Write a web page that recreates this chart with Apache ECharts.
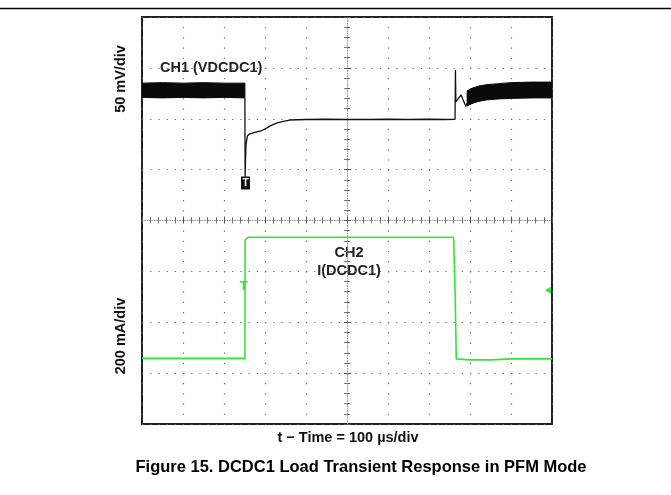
<!DOCTYPE html>
<html><head><meta charset="utf-8">
<script src="https://cdn.jsdelivr.net/npm/echarts@6/dist/echarts.min.js"></script>
<style>html,body{margin:0;padding:0;background:#fff}#c{width:671px;height:495px}</style>
</head><body><div id="c"></div>
<script>
// Screen in divisions: 10 horizontal (100 µs/div), 8 vertical, centred at 0
const xRange = [-5, 5];
const yRange = [-4, 4];
// CH1 (VDCDC1) PFM ripple envelope before the load step (div)
const ch1PreX    = [-5, -4.5, -4, -3.5, -3, -2.49];
const ch1PreLow  = [2.42, 2.41, 2.42, 2.41, 2.42, 2.41];
const ch1PreHigh = [2.70, 2.71, 2.70, 2.71, 2.70, 2.70];
// CH1 ripple envelope after the load release
const ch1PostX    = [2.93, 3.05, 3.2, 3.4, 3.7, 4.0, 4.5, 5];
const ch1PostLow  = [2.25, 2.30, 2.34, 2.37, 2.39, 2.40, 2.41, 2.41];
const ch1PostHigh = [2.55, 2.60, 2.64, 2.67, 2.69, 2.71, 2.72, 2.72];
// CH1 trace during the transient
const ch1TraceX = [-2.49, -2.485, -2.465, -2.43, -2.38, -2.25, -2.1, -1.95, -1.85, -1.7, -1.55, -1.4, -1.0, -0.5, 0, 0.5, 1.0, 1.5, 2.0, 2.4, 2.635, 2.645, 2.655, 2.78, 2.9, 2.93];
const ch1TraceY = [2.41, 0.86, 1.48, 1.66, 1.70, 1.73, 1.76, 1.82, 1.87, 1.92, 1.95, 1.975, 1.985, 1.99, 1.985, 1.985, 1.99, 1.985, 1.99, 1.985, 1.99, 2.96, 2.33, 2.47, 2.24, 2.30];
// CH2 I(DCDC1) load current
const ch2X = [-5, -2.49, -2.485, -2.41, -2.3, 0, 2.6, 2.634, 2.64, 2.66, 2.665, 3.0, 3.5, 4.0, 5];
const ch2Y = [-2.71, -2.71, -0.38, -0.33, -0.33, -0.33, -0.33, -0.34, -1.52, -1.55, -2.72, -2.74, -2.74, -2.72, -2.72];
// scope markers
const ch1Trig = [-2.476, 0.737];
const ch2Trig = [-2.52, -1.30];
const ch2Offset = [4.90, -1.37];

const zip = (xs, ys) => xs.map((x, i) => [x, ys[i]]);

const chart = echarts.init(document.getElementById('c'), null, {renderer: 'canvas'});
const F = 'Liberation Sans, Arial, Helvetica, sans-serif';
const G = {left: 142, top: 17, width: 410, height: 407};
const tickAxis = (pos, grid, isX) => ({
  type: 'value', gridIndex: grid, position: pos,
  min: isX ? xRange[0] : yRange[0], max: isX ? xRange[1] : yRange[1], interval: 1,
  axisLine: {show: false}, axisLabel: {show: false},
  axisTick: {show: true, inside: true, length: 3, lineStyle: {color: '#555', width: 1}},
  minorTick: {show: true, splitNumber: 5, length: 3, lineStyle: {color: '#777', width: 1}},
  splitLine: {show: false}
});
const xMain = tickAxis('bottom', 0, true);
xMain.splitLine = {show: true, lineStyle: {color: '#666', width: 1.2, type: [1.2, 8.97]}};
const yMain = tickAxis('left', 0, false);
yMain.splitLine = {show: true, lineStyle: {color: '#666', width: 1.2, type: [1.2, 7.0]}};
const centreAxis = (isX) => ({
  type: 'value', gridIndex: 1, position: isX ? 'bottom' : 'left',
  min: isX ? xRange[0] : yRange[0], max: isX ? xRange[1] : yRange[1], interval: 1,
  axisLine: {show: true, onZero: true, lineStyle: {color: '#999', width: 1, type: [1, 1.5]}},
  axisLabel: {show: false},
  axisTick: {show: true, inside: true, length: 4, lineStyle: {color: '#555'}},
  minorTick: {show: true, splitNumber: 5, length: 3, lineStyle: {color: '#666'}},
  splitLine: {show: false}
});
// ripple envelope drawn as a filled band through the axis scales
const band = (xs, lo, hi) => ({
  type: 'custom', silent: true, z: 3, clip: true,
  data: [[xs[0], lo[0]]], encode: {x: 0, y: 1},
  renderItem: (params, api) => {
    const top = xs.map((x, i) => api.coord([x, hi[i]]));
    const bot = xs.map((x, i) => api.coord([x, lo[i]])).reverse();
    return {type: 'polygon', shape: {points: top.concat(bot)},
            style: {fill: '#0a0a0a', stroke: '#0a0a0a', lineWidth: 1}};
  }
});

chart.setOption({
  animation: false,
  backgroundColor: '#fff',
  grid: [
    Object.assign({show: true, borderColor: '#222', borderWidth: 2, backgroundColor: 'transparent'}, G),
    Object.assign({show: false}, G)
  ],
  xAxis: [xMain, tickAxis('top', 0, true), centreAxis(true)],
  yAxis: [yMain, tickAxis('right', 0, false), centreAxis(false)],
  series: [
    band(ch1PreX, ch1PreLow, ch1PreHigh),
    band(ch1PostX, ch1PostLow, ch1PostHigh),
    {type: 'line', name: 'CH1', data: zip(ch1TraceX, ch1TraceY), symbol: 'none',
     lineStyle: {color: '#111', width: 1.3}, z: 4,
     markPoint: {symbol: 'rect', symbolSize: [9, 13], itemStyle: {color: '#111'},
       label: {show: true, formatter: 'T', color: '#fff', fontFamily: F, fontWeight: 'bold', fontSize: 10},
       data: [{coord: ch1Trig}]}},
    {type: 'line', name: 'CH2', data: zip(ch2X, ch2Y), symbol: 'none',
     lineStyle: {color: '#33e633', width: 1.6}, z: 4,
     markPoint: {data: [
       {coord: ch2Trig, symbol: 'circle', symbolSize: 0,
        label: {show: true, formatter: 'T', color: '#33e633', fontFamily: F, fontWeight: 'bold', fontSize: 13, offset: [0, 0]}},
       {coord: ch2Offset, symbol: 'triangle', symbolSize: [7, 6], symbolRotate: 90, itemStyle: {color: '#33e633'}, label: {show: false}}
     ]}}
  ],
  graphic: [
    {type: 'line', shape: {x1: 0, y1: 8.5, x2: 671, y2: 8.5}, style: {stroke: '#000', lineWidth: 1.5}, silent: true},
    {type: 'text', x: 160, y: 68, style: {text: 'CH1 (VDCDC1)', font: 'bold 14.5px ' + F, fill: '#222', textAlign: 'left', textVerticalAlign: 'middle'}},
    {type: 'text', x: 349, y: 253, style: {text: 'CH2', font: 'bold 14.5px ' + F, fill: '#222', textAlign: 'center', textVerticalAlign: 'middle'}},
    {type: 'text', x: 349, y: 271, style: {text: 'I(DCDC1)', font: 'bold 14.5px ' + F, fill: '#222', textAlign: 'center', textVerticalAlign: 'middle'}},
    {type: 'text', x: 121, y: 79, rotation: Math.PI / 2, style: {text: '50 mV/div', font: 'bold 14.5px ' + F, fill: '#111', textAlign: 'center', textVerticalAlign: 'middle'}},
    {type: 'text', x: 121, y: 336, rotation: Math.PI / 2, style: {text: '200 mA/div', font: 'bold 14.5px ' + F, fill: '#111', textAlign: 'center', textVerticalAlign: 'middle'}},
    {type: 'text', x: 348, y: 438, style: {text: 't \u2212 Time = 100 \u00b5s/div', font: 'bold 14.5px ' + F, fill: '#111', textAlign: 'center', textVerticalAlign: 'middle'}},
    {type: 'text', x: 361, y: 467, style: {text: 'Figure 15. DCDC1 Load Transient Response in PFM Mode', font: 'bold 16.5px ' + F, fill: '#000', textAlign: 'center', textVerticalAlign: 'middle'}}
  ]
});
</script>
</body></html>
